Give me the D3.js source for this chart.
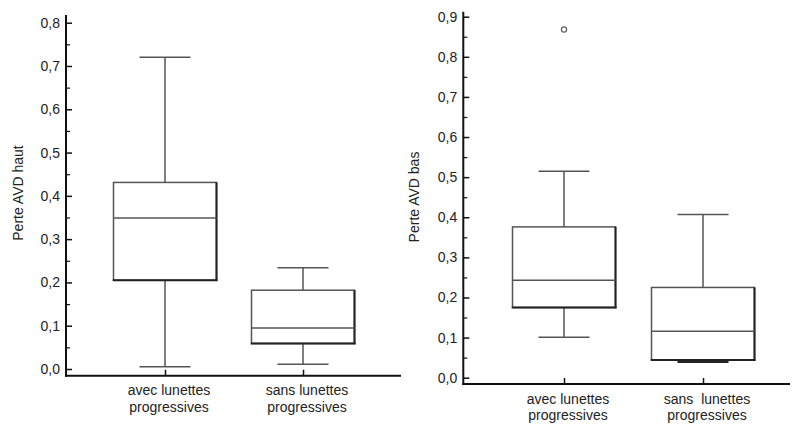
<!DOCTYPE html>
<html>
<head>
<meta charset="utf-8">
<script src="https://cdn.jsdelivr.net/npm/d3@7"></script>
<style>
  html, body { margin: 0; padding: 0; background: #fff; }
  svg { display: block; font-family: "Liberation Sans", Arial, sans-serif; }
  text { fill: #222; }
</style>
</head>
<body>
<svg id="chart" width="792" height="425"></svg>
<script>
// Groups compared in both panels
const categories = ["avec", "sans"];
const labelsHaut = [["avec lunettes", "progressives"], ["sans lunettes", "progressives"]];
const labelsBas = [["avec lunettes", "progressives"], ["sans  lunettes", "progressives"]];

// Perte AVD haut: box statistics per group
const hautMin = [0.005, 0.011];
const hautQ1 = [0.205, 0.059];
const hautMedian = [0.349, 0.095];
const hautQ3 = [0.431, 0.182];
const hautMax = [0.720, 0.234];
const hautOutliers = [[], []];

// Perte AVD bas: box statistics per group
const basMin = [0.101, 0.040];
const basQ1 = [0.175, 0.044];
const basMedian = [0.243, 0.116];
const basQ3 = [0.376, 0.225];
const basMax = [0.515, 0.407];
const basOutliers = [[0.868], []];

// Axis ticks
const hautTicks = [0, 0.1, 0.2, 0.3, 0.4, 0.5, 0.6, 0.7, 0.8];
const hautMinorTicks = [0.05, 0.15, 0.25, 0.35, 0.45, 0.55, 0.65, 0.75];
const basTicks = [0, 0.1, 0.2, 0.3, 0.4, 0.5, 0.6, 0.7, 0.8, 0.9];
const basMinorTicks = [0.05, 0.15, 0.25, 0.35, 0.45, 0.55, 0.65, 0.75, 0.85];

const fr = d3.formatLocale({decimal: ",", thousands: " ", grouping: [3], currency: ["", " €"]});
const fmt = fr.format(".1f");

const svg = d3.select("#chart");

function panel(cfg) {
  const g = svg.append("g");
  const y = d3.scaleLinear().domain(cfg.domain).range([cfg.y0, cfg.yTop]);
  const x = d3.scalePoint().domain(categories).range(cfg.xCenters);

  // major ticks (pointing inward) with labels
  const ax = g.append("g")
    .attr("transform", `translate(${cfg.axisX},0)`)
    .call(d3.axisLeft(y).tickValues(cfg.ticks).tickFormat(fmt).tickSize(-6).tickPadding(6));
  ax.select(".domain").remove();
  ax.selectAll(".tick line").attr("stroke", "#111").attr("stroke-width", 1.5);
  ax.selectAll(".tick text").attr("font-size", 14).attr("fill", "#222")
    .attr("font-family", "Liberation Sans, Arial, sans-serif");

  // minor ticks
  const mx = g.append("g")
    .attr("transform", `translate(${cfg.axisX},0)`)
    .call(d3.axisLeft(y).tickValues(cfg.minor).tickFormat("").tickSize(-4));
  mx.select(".domain").remove();
  mx.selectAll(".tick line").attr("stroke", "#111").attr("stroke-width", 1.2);

  // category ticks on the x axis
  const bx = g.append("g")
    .attr("transform", `translate(0,${cfg.baseY})`)
    .call(d3.axisBottom(x).tickSize(-6).tickFormat(""));
  bx.select(".domain").remove();
  bx.selectAll(".tick line").attr("stroke", "#111").attr("stroke-width", 1.5);

  // axis lines
  g.append("line").attr("x1", cfg.axisX).attr("x2", cfg.axisX)
    .attr("y1", cfg.axisTop).attr("y2", cfg.baseY + 1)
    .attr("stroke", "#111").attr("stroke-width", 2);
  g.append("line").attr("x1", cfg.axisX - 1).attr("x2", cfg.axisRight)
    .attr("y1", cfg.baseY).attr("y2", cfg.baseY)
    .attr("stroke", "#111").attr("stroke-width", 2);

  // boxes
  const boxW = 103, capW = 51;
  const s = cfg.stats;
  categories.forEach((c, i) => {
    const cx = x(c);
    const bg = g.append("g");
    const line = (x1, y1, x2, y2, col, w) => bg.append("line")
      .attr("x1", x1).attr("y1", y1).attr("x2", x2).attr("y2", y2)
      .attr("stroke", col).attr("stroke-width", w);
    const grey = "#555";
    // whiskers
    line(cx, y(s.max[i]), cx, y(s.q3[i]), grey, 1.5);
    line(cx, y(s.q1[i]), cx, y(s.min[i]), grey, 1.5);
    line(cx - capW / 2, y(s.max[i]), cx + capW / 2, y(s.max[i]), grey, 1.5);
    const lowCapW = (y(s.min[i]) - y(s.q1[i]) < 4) ? 2.5 : 1.5;
    line(cx - capW / 2, y(s.min[i]), cx + capW / 2, y(s.min[i]), lowCapW > 2 ? "#222" : grey, lowCapW);
    // box
    bg.append("rect")
      .attr("x", cx - boxW / 2).attr("y", y(s.q3[i]))
      .attr("width", boxW).attr("height", y(s.q1[i]) - y(s.q3[i]))
      .attr("fill", "#fff").attr("stroke", grey).attr("stroke-width", 1.5);
    // darker right and bottom edges
    line(cx + boxW / 2, y(s.q3[i]), cx + boxW / 2, y(s.q1[i]) + 0.75, "#222", 2);
    line(cx - boxW / 2 - 0.75, y(s.q1[i]), cx + boxW / 2 + 1, y(s.q1[i]), "#222", 2);
    // median
    line(cx - boxW / 2, y(s.median[i]), cx + boxW / 2, y(s.median[i]), grey, 1.5);
    // outliers
    s.out[i].forEach(v => {
      bg.append("circle").attr("cx", cx).attr("cy", y(v)).attr("r", 2.6)
        .attr("fill", "#fff").attr("stroke", "#666").attr("stroke-width", 1.3);
    });
    // category label
    const t = g.append("text").attr("text-anchor", "middle").attr("font-size", 14)
      .attr("fill", "#222").style("white-space", "pre");
    cfg.labels[i].forEach((l, k) => {
      t.append("tspan").attr("x", cx + 4).attr("y", cfg.baseY + 19.5 + k * 16.5).text(l);
    });
  });

  // y title
  g.append("text")
    .attr("transform", `translate(${cfg.titleX},${cfg.titleY}) rotate(-90)`)
    .attr("text-anchor", "middle").attr("font-size", 14).attr("fill", "#222")
    .text(cfg.title);
}

panel({
  domain: [0, 0.8], y0: 369, yTop: 22.7,
  xCenters: [165, 303], axisX: 66, axisTop: 15, baseY: 375.7, axisRight: 401,
  ticks: hautTicks, minor: hautMinorTicks, labels: labelsHaut,
  stats: {min: hautMin, q1: hautQ1, median: hautMedian, q3: hautQ3, max: hautMax, out: hautOutliers},
  title: "Perte AVD haut", titleX: 22.5, titleY: 193
});

panel({
  domain: [0, 0.9], y0: 377.7, yTop: 16.7,
  xCenters: [564, 703], axisX: 463.3, axisTop: 11.7, baseY: 384, axisRight: 790,
  ticks: basTicks, minor: basMinorTicks, labels: labelsBas,
  stats: {min: basMin, q1: basQ1, median: basMedian, q3: basQ3, max: basMax, out: basOutliers},
  title: "Perte AVD bas", titleX: 419, titleY: 197
});
</script>
</body>
</html>
